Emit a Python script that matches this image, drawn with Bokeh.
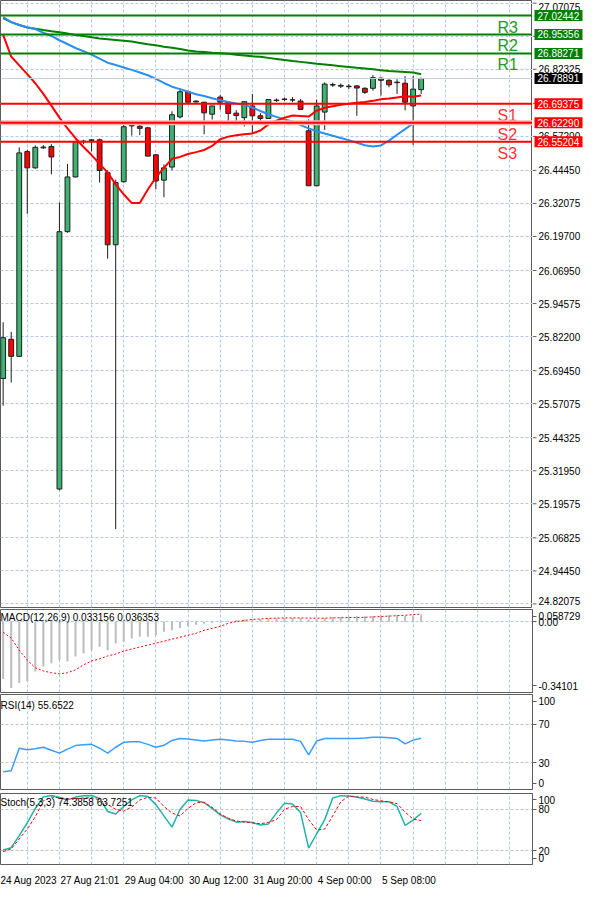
import numpy as np
from bokeh.plotting import figure
from bokeh.layouts import column, row
from bokeh.models import FixedTicker, Range1d, Label, ColumnDataSource, Span
from bokeh.embed import file_html
from bokeh.resources import INLINE
from bokeh.core.properties import value

# ---------------- data (H4 bars) ----------------
opens = [25.665, 25.812, 25.748, 26.515, 26.454, 26.529, 26.534, 25.251, 26.215, 26.420,
         26.552, 26.557, 26.559, 26.436, 26.166, 26.402, 26.611, 26.610, 26.604, 26.503,
         26.408, 26.457, 26.645, 26.739, 26.704, 26.700, 26.655, 26.719, 26.700, 26.659,
         26.642, 26.686, 26.649, 26.639, 26.706, 26.710, 26.708, 26.704, 26.593, 26.387,
         26.663, 26.764, 26.760, 26.758, 26.761, 26.752, 26.752, 26.790, 26.782, 26.773,
         26.771, 26.686, 26.747]
highs = [25.876, 25.840, 26.531, 26.522, 26.538, 26.539, 26.543, 26.325, 26.469, 26.554,
         26.559, 26.561, 26.564, 26.4445, 26.410, 26.627, 26.620, 26.618, 26.608, 26.506,
         26.467, 26.666, 26.752, 26.743, 26.707, 26.701, 26.687, 26.727, 26.701, 26.670,
         26.703, 26.731, 26.659, 26.712, 26.714, 26.717, 26.719, 26.712, 26.636, 26.710,
         26.774, 26.773, 26.770, 26.768, 26.764, 26.756, 26.802, 26.793, 26.786, 26.786,
         26.798, 26.798, 26.792]
lows = [25.563, 25.650, 25.747, 26.282, 26.451, 26.525, 26.430, 25.246, 26.211, 26.418,
        26.543, 26.516, 26.399, 26.114, 25.101, 26.399, 26.575, 26.577, 26.497, 26.374,
        26.344, 26.4445, 26.639, 26.700, 26.698, 26.580, 26.635, 26.672, 26.617, 26.617,
        26.609, 26.583, 26.617, 26.637, 26.701, 26.705, 26.700, 26.672, 26.386, 26.386,
        26.596, 26.757, 26.753, 26.749, 26.649, 26.731, 26.743, 26.725, 26.756, 26.731,
        26.669, 26.540, 26.731]
closes = [25.818, 25.748, 26.510, 26.454, 26.531, 26.532, 26.495, 26.215, 26.420, 26.553,
          26.554, 26.559, 26.4445, 26.166, 26.399, 26.608, 26.613, 26.602, 26.498, 26.405,
          26.454, 26.653, 26.739, 26.700, 26.701, 26.660, 26.686, 26.700, 26.658, 26.650,
          26.702, 26.649, 26.639, 26.710, 26.708, 26.712, 26.709, 26.673, 26.387, 26.686,
          26.768, 26.766, 26.763, 26.760, 26.753, 26.737, 26.792, 26.782, 26.765, 26.775,
          26.700, 26.749, 26.78891]

ma_red = [26.952, 26.871, 26.838, 26.805, 26.771, 26.731, 26.687, 26.642, 26.602, 26.565,
          26.532, 26.502, 26.469, 26.436, 26.392, 26.355, 26.322, 26.322, 26.373, 26.418,
          26.454, 26.488, 26.495, 26.506, 26.513, 26.521, 26.536, 26.561, 26.571, 26.576,
          26.580, 26.583, 26.594, 26.617, 26.631, 26.642, 26.650, 26.648, 26.646, 26.668,
          26.679, 26.685, 26.690, 26.694, 26.698, 26.701, 26.705, 26.711, 26.714, 26.718,
          26.722, 26.720, 26.725]
ma_blue = [27.019, 27.000, 26.989, 26.981, 26.974, 26.960, 26.948, 26.932, 26.918, 26.903,
           26.891, 26.878, 26.863, 26.848, 26.839, 26.830, 26.821, 26.811, 26.801, 26.787,
           26.772, 26.758, 26.749, 26.739, 26.730, 26.723, 26.715, 26.707, 26.701, 26.695,
           26.690, 26.680, 26.667, 26.655, 26.645, 26.635, 26.628, 26.614, 26.602, 26.591,
           26.583, 26.574, 26.566, 26.558, 26.548, 26.539, 26.534, 26.538, 26.556, 26.578,
           26.599, 26.620, 26.620]
ma_green = [27.015, 27.000, 26.989, 26.980, 26.975, 26.970, 26.966, 26.962, 26.957, 26.952,
            26.948, 26.943, 26.939, 26.936, 26.933, 26.930, 26.927, 26.922, 26.917, 26.913,
            26.908, 26.904, 26.899, 26.894, 26.890, 26.888, 26.885, 26.883, 26.881, 26.878,
            26.875, 26.872, 26.870, 26.866, 26.862, 26.858, 26.854, 26.851, 26.848, 26.844,
            26.841, 26.838, 26.835, 26.832, 26.829, 26.826, 26.823, 26.820, 26.817, 26.815,
            26.813, 26.811, 26.805]

pivot_names = ["R3", "R2", "R1", "S1", "S2", "S3"]
pivot_values = [27.02442, 26.95356, 26.88271, 26.69375, 26.62290, 26.55204]
last_price = 26.78891

price_ticks = [27.07075, 26.94700, 26.82325, 26.69575, 26.57200, 26.44450, 26.32075,
               26.19700, 26.06950, 25.94575, 25.82200, 25.69450, 25.57075, 25.44325,
               25.31950, 25.19575, 25.06825, 24.94450, 24.82075]

macd_main = [-0.276, -0.319, -0.295, -0.287, -0.240, -0.216, -0.200, -0.184, -0.192, -0.168,
             -0.152, -0.137, -0.121, -0.137, -0.105, -0.097, -0.081, -0.073, -0.073, -0.065,
             -0.049, -0.041, -0.030, -0.021, -0.015, -0.010, -0.006, -0.004, 0.003, 0.008,
             0.011, 0.013, 0.014, 0.016, 0.017, 0.018, 0.019, 0.018, 0.010, 0.013,
             0.018, 0.021, 0.023, 0.025, 0.026, 0.026, 0.028, 0.030, 0.031, 0.031,
             0.029, 0.030, 0.033156]
macd_signal = [-0.051, -0.079, -0.137, -0.185, -0.222, -0.237, -0.246, -0.251, -0.246, -0.232,
               -0.208, -0.189, -0.179, -0.165, -0.156, -0.141, -0.132, -0.122, -0.113, -0.103,
               -0.094, -0.084, -0.075, -0.065, -0.056, -0.041, -0.032, -0.022, -0.008, 0.001,
               0.006, 0.011, 0.013, 0.016, 0.017, 0.018, 0.018, 0.018, 0.017, 0.017,
               0.017, 0.018, 0.019, 0.020, 0.020, 0.021, 0.023, 0.025, 0.027, 0.029,
               0.031, 0.034, 0.036353]
macd_axis_values = [0.058729, 0.0, -0.34101]
macd_axis_texts = ["0.058729", "0.00", "-0.34101"]

rsi_values = [20.9, 21.9, 45.3, 43.7, 44.8, 46.3, 43.2, 40.2, 44.3, 48.0,
              48.8, 49.3, 45.3, 40.2, 46.3, 51.4, 51.9, 51.9, 49.3, 46.3,
              48.3, 53.4, 55.4, 54.9, 53.9, 52.7, 53.9, 54.7, 53.9, 52.7,
              52.4, 51.4, 53.4, 54.7, 54.7, 54.7, 54.7, 52.4, 38.5, 52.7,
              55.4, 55.4, 55.4, 55.4, 55.4, 55.9, 56.8, 56.8, 56.2, 55.4,
              49.8, 53.7, 55.6522]
rsi_axis_values = [100, 70, 30, 0]
rsi_levels = [70, 30]

stoch_main = [21.0, 24.4, 41.9, 60.3, 81.4, 98.1, 100, 97.3, 93.7, 97.8,
              99.9, 100, 95.8, 76.9, 73.3, 84.2, 93.7, 100, 98.5, 86.9,
              70.5, 54.2, 79.7, 93.7, 93.0, 89.6, 81.4, 71.9, 66.4, 61.4,
              62.3, 61.0, 57.3, 58.9, 74.6, 88.7, 87.6, 75.3, 23.7, 44.6,
              65.1, 96.5, 99.9, 99.2, 97.8, 95.1, 91.7, 91.0, 91.0, 84.2,
              56.9, 64.4, 74.3858]
stoch_signal = [18.7, 22.5, 37.1, 51.4, 69.2, 92.4, 97.8, 96.7, 95.5, 95.5,
                96.5, 97.1, 93.7, 86.9, 80.1, 77.4, 83.5, 93.7, 97.4, 96.5,
                84.2, 74.6, 70.5, 81.4, 89.6, 90.3, 82.8, 73.3, 67.1, 63.0,
                61.7, 60.3, 59.2, 61.0, 65.1, 80.1, 84.2, 84.2, 65.1, 50.1,
                51.4, 70.5, 91.0, 99.2, 97.8, 97.8, 94.4, 92.4, 91.0, 88.3,
                76.0, 65.8, 63.7251]
stoch_axis_values = [100, 80, 20, 0]
stoch_levels = [80, 20]

date_labels = ["24 Aug 2023", "27 Aug 21:01", "29 Aug 04:00", "30 Aug 12:00",
               "31 Aug 20:00", "4 Sep 00:00", "5 Sep 08:00"]
date_tick_bars = [-1, 7, 15, 23, 31, 39, 47]

macd_title = "MACD(12,26,9) 0.033156 0.036353"
rsi_title = "RSI(14) 55.6522"
stoch_title = "Stoch(5,3,3) 74.3858 63.7251"

# ---------------- layout / style ----------------
n = len(closes)
bars = np.arange(n)
FONT = "Liberation Sans"
W = 584
RIGHT = 52
FRAME_W = W - RIGHT
X_START, X_END = -0.33, 65.85
PX_PER_BAR = FRAME_W / (X_END - X_START)
P_LO, P_HI = 24.8073, 27.0809
GRID_C = "#b4c8e2"
LEVEL_C = "#c4c4c4"
FRAME_C = "#5c5c5c"
GREEN = "#008000"
RED = "#ff0000"

xr = Range1d(X_START, X_END)
vgrid_ticks = list(range(3, 66, 4))


def make_fig(height, y_lo, y_hi, bottom_gap, x_axis=None, with_axis=True):
    f = figure(width=W if with_axis else FRAME_W, height=height, x_range=xr,
               y_range=Range1d(y_lo, y_hi), output_backend="svg", toolbar_location=None,
               x_axis_location=x_axis, y_axis_location="right" if with_axis else None,
               min_border_left=0, min_border_right=RIGHT if with_axis else 0,
               min_border_top=0, min_border_bottom=bottom_gap)
    f.outline_line_color = FRAME_C
    f.background_fill_color = "white"
    f.border_fill_color = "white"
    if with_axis:
        ax = f.yaxis[0]
        ax.axis_line_color = FRAME_C
        ax.major_tick_line_color = FRAME_C
        ax.major_tick_out = 4
        ax.major_tick_in = 0
        ax.minor_tick_line_color = None
        ax.major_label_text_font = FONT
        ax.major_label_text_font_size = "10px"
        ax.major_label_text_color = "#000000"
        ax.major_label_standoff = 2
    f.xgrid.ticker = FixedTicker(ticks=vgrid_ticks)
    f.xgrid.grid_line_color = GRID_C
    f.xgrid.grid_line_dash = "3 2"
    return f


def clamp_inside(values, lo, hi, frame_px, inset_px=6.5):
    m = inset_px * (hi - lo) / frame_px
    return [round(min(max(float(v), lo + m), hi - m), 6) for v in values]


def side_ticks(f, values, texts, lo, hi, frame_px):
    pos = clamp_inside(values, lo, hi, frame_px)
    f.yaxis.ticker = FixedTicker(ticks=pos)
    f.yaxis.major_label_overrides = {p_: t for p_, t in zip(pos, texts)}


def title(f, text, top, dy):
    f.add_layout(Label(x=X_START, y=top, x_offset=0, y_offset=dy, text=text,
                       text_font=FONT, text_font_size="10px", text_color="#000000",
                       text_align="left", text_baseline="top"))


# ---------------- main price panel ----------------
MAIN_FRAME = 607
p = make_fig(MAIN_FRAME + 2, P_LO, P_HI, 2, with_axis=False)
p.ygrid.ticker = FixedTicker(ticks=price_ticks)
p.ygrid.grid_line_color = GRID_C
p.ygrid.grid_line_dash = "3 2"

up = [c >= o for o, c in zip(opens, closes)]
src = ColumnDataSource(dict(
    x=bars, h=highs, l=lows,
    top=np.maximum(opens, closes), bottom=np.minimum(opens, closes),
    color=["#3cb371" if u else RED for u in up]))
p.segment("x", "h", "x", "l", source=src, line_color="#1e1e1e", line_width=1)
p.vbar(x="x", top="top", bottom="bottom", width=0.6, fill_color="color",
       line_color="#1e1e1e", line_width=1, source=src)

p.line(bars, ma_green, line_color=GREEN, line_width=2)
p.line(bars, ma_blue, line_color="#2b8ff0", line_width=2)
p.line(bars, ma_red, line_color=RED, line_width=2)

p.add_layout(Span(location=last_price, dimension="width", line_color="#c6cedb", line_width=1))
for name, val in zip(pivot_names, pivot_values):
    col = GREEN if name.startswith("R") else RED
    if name == "S2":
        p.add_layout(Span(location=val, dimension="width", line_color="#ffb4b4", line_width=5))
    p.add_layout(Span(location=val, dimension="width", line_color=col, line_width=2))

p.text(x=[X_END - 35 / PX_PER_BAR] * len(pivot_names), y=pivot_values, text=pivot_names,
       text_color=["#229a22" if nm.startswith("R") else "#ff3535" for nm in pivot_names],
       text_font=value(FONT), text_font_size=value("16px"),
       text_baseline="top", text_align="left", y_offset=3)

# price scale strip (right of the main panel), sharing the price range
sc = figure(width=RIGHT, height=MAIN_FRAME + 2, x_range=Range1d(0, RIGHT), y_range=p.y_range,
            output_backend="svg", toolbar_location=None, x_axis_location=None,
            y_axis_location=None, min_border_left=0, min_border_right=0,
            min_border_top=0, min_border_bottom=2)
sc.grid.visible = False
sc.outline_line_color = None
sc.background_fill_color = "white"
sc.border_fill_color = "white"
k = len(price_ticks)
sc.segment(x0=[0] * k, y0=price_ticks, x1=[4] * k, y1=price_ticks, line_color=FRAME_C, line_width=1)
sc.text(x=[6] * k, y=clamp_inside(price_ticks, P_LO, P_HI, MAIN_FRAME, 6.0),
        text=[f"{t:.5f}" for t in price_ticks],
        text_font=value(FONT), text_font_size=value("10px"), text_color="#000000",
        text_baseline="middle", text_align="left")
tag_values = pivot_values + [last_price]
tag_colors = [GREEN if nm.startswith("R") else RED for nm in pivot_names] + ["#000000"]
sc.rect(x=[26] * len(tag_values), y=tag_values, width=48, height=11, height_units="screen",
        fill_color=tag_colors, line_color=None)
sc.text(x=[5] * len(tag_values), y=tag_values, text=[f"{v:.5f}" for v in tag_values],
        text_font=value(FONT), text_font_size=value("10px"), text_color="white",
        text_baseline="middle", text_align="left")

# ---------------- MACD ----------------
MACD_FRAME = 83
M_LO, M_HI = -0.34101, 0.058729
m = make_fig(MACD_FRAME + 2, M_LO, M_HI, 2)
side_ticks(m, macd_axis_values, macd_axis_texts, M_LO, M_HI, MACD_FRAME)
m.ygrid.ticker = FixedTicker(ticks=[0.0])
m.ygrid.grid_line_color = GRID_C
m.ygrid.grid_line_dash = "3 2"
m.vbar(x=bars, top=macd_main, bottom=0, width=0.25, fill_color="#bdbdbd", line_color=None)
m.line(bars, macd_signal, line_color=RED, line_dash="2 2", line_width=1)
title(m, macd_title, M_HI, -2)

# ---------------- RSI ----------------
RSI_FRAME = 95
R_LO, R_HI = 2.5, 101
r = make_fig(RSI_FRAME + 4, R_LO, R_HI, 4)
side_ticks(r, rsi_axis_values, [str(v) for v in rsi_axis_values], R_LO, R_HI, RSI_FRAME)
r.ygrid.ticker = FixedTicker(ticks=rsi_levels)
r.ygrid.grid_line_color = LEVEL_C
r.ygrid.grid_line_dash = "3 2"
r.line(bars, rsi_values, line_color="#3a9cff", line_width=1.5)
title(r, rsi_title, R_HI, -5)

# ---------------- Stochastic ----------------
S_LO, S_HI = 0, 103
s = make_fig(95, S_LO, S_HI, 0, x_axis="below")
side_ticks(s, stoch_axis_values, [str(v) for v in stoch_axis_values], S_LO, S_HI, 76)
s.ygrid.ticker = FixedTicker(ticks=stoch_levels)
s.ygrid.grid_line_color = LEVEL_C
s.ygrid.grid_line_dash = "3 2"
s.line(bars, stoch_main, line_color="#20b2aa", line_width=1.5)
s.line(bars, stoch_signal, line_color=RED, line_dash="3 2", line_width=1)
title(s, stoch_title, S_HI, -3)

CW = {d: 5.56 for d in "0123456789"}
CW.update({" ": 2.78, ":": 2.78, "A": 6.67, "S": 6.67})
centers = [round(t + (sum(CW.get(ch, 5.56) for ch in lab) / 2 + 1) / PX_PER_BAR, 4)
           for t, lab in zip(date_tick_bars, date_labels)]
xa = s.xaxis[0]
xa.ticker = FixedTicker(ticks=centers)
xa.major_label_overrides = {c: lab for c, lab in zip(centers, date_labels)}
xa.major_tick_line_color = None
xa.minor_tick_line_color = None
xa.axis_line_color = None
xa.major_label_text_font = FONT
xa.major_label_text_font_size = "10px"
xa.major_label_text_color = "#000000"
xa.major_label_standoff = 4

layout = column(row(p, sc, spacing=0), m, r, s, spacing=0)
open("out.html", "w").write(file_html(layout, INLINE))
